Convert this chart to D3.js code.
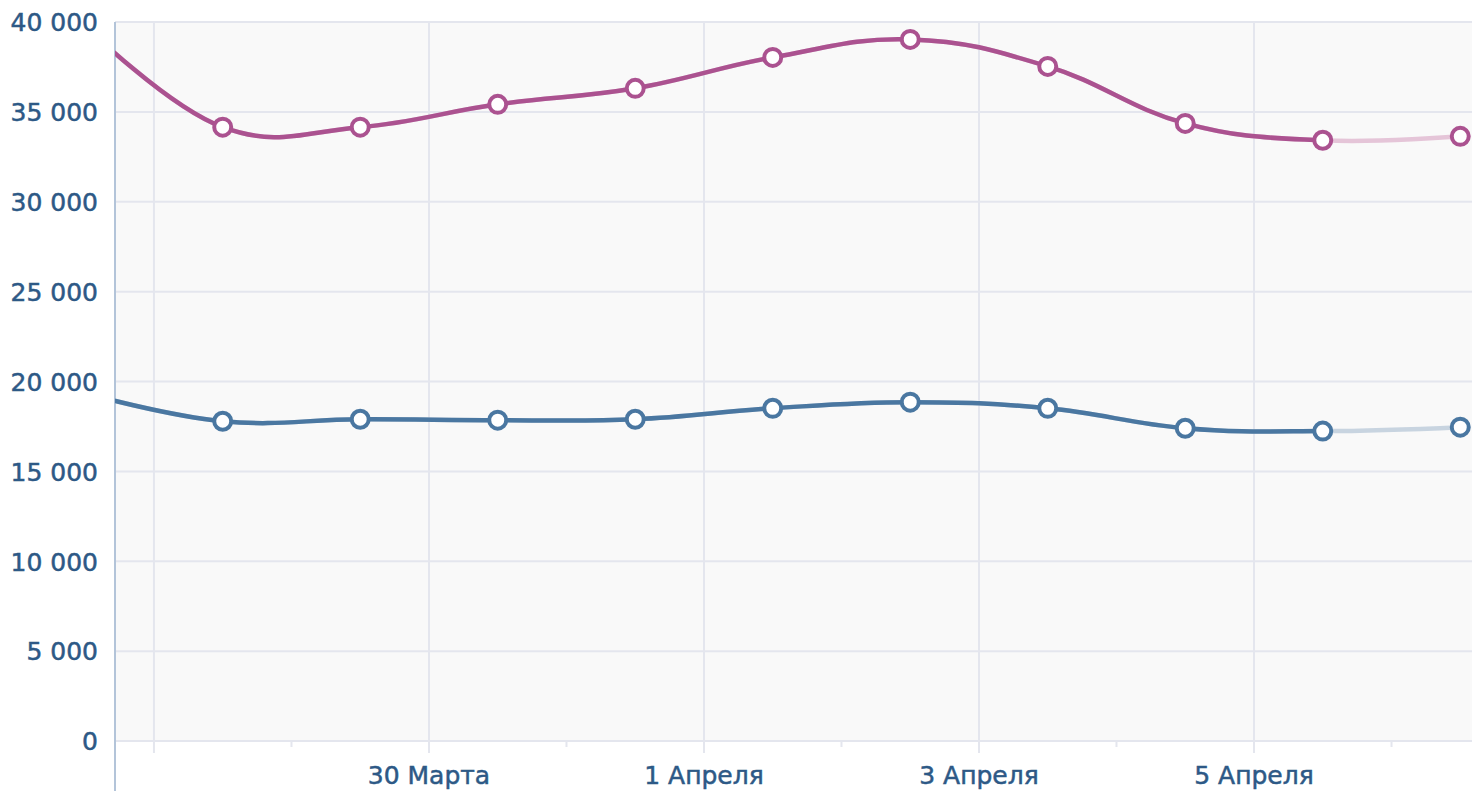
<!DOCTYPE html>
<html>
<head>
<meta charset="utf-8">
<script src="https://cdn.jsdelivr.net/npm/d3@7"></script>
<style>
  html, body { margin: 0; padding: 0; background: #fff; }
  svg { display: block; font-family: "DejaVu Sans", Verdana, sans-serif; }
</style>
</head>
<body>
<script>
// Data: one point per day at noon, 27 March .. 6 April (first point is off the left edge)
const days = ["2015-03-27", "2015-03-28", "2015-03-29", "2015-03-30", "2015-03-31",
              "2015-04-01", "2015-04-02", "2015-04-03", "2015-04-04", "2015-04-05", "2015-04-06"];
const seriesTop = [39800, 34150, 34150, 35420, 36310, 38030, 39030, 37530, 34360, 33420, 33640];
const seriesBottom = [19350, 17790, 17900, 17850, 17900, 18510, 18850, 18510, 17400, 17240, 17460];
// last segment (after 5 April) is drawn lighter
const lastFullDay = "2015-04-05";

const yTicks = [0, 5000, 10000, 15000, 20000, 25000, 30000, 35000, 40000];
const majorDays = ["2015-03-28", "2015-03-30", "2015-04-01", "2015-04-03", "2015-04-05"];
const majorLabels = ["", "30 Марта", "1 Апреля", "3 Апреля", "5 Апреля"];
const minorDays = ["2015-03-29", "2015-03-31", "2015-04-02", "2015-04-04", "2015-04-06"];

const W = 1472, H = 791;
const plotLeft = 115, plotTop = 22, plotBottom = 741;

const parseDay = d3.utcParse("%Y-%m-%d");
const noon = s => d3.utcHour.offset(parseDay(s), 12);

const svg = d3.select("body").append("svg")
    .attr("width", W)
    .attr("height", H);

// x: 28 March 00:00 sits at x=154, 137.5 px per day
const x = d3.scaleUtc()
    .domain([new Date(Date.UTC(2015, 2, 27, 17, 12)), new Date(Date.UTC(2015, 3, 6, 14, 3))])
    .range([plotLeft, W]);

const y = d3.scaleLinear()
    .domain([0, 40000])
    .range([plotBottom, plotTop]);

const fmt = d3.formatLocale({ decimal: ",", thousands: " ", grouping: [3], currency: ["", ""] }).format(",d");

// plot background
svg.append("rect")
    .attr("x", plotLeft)
    .attr("y", plotTop)
    .attr("width", W - plotLeft)
    .attr("height", plotBottom - plotTop)
    .attr("fill", "#f9f9f9");

// horizontal grid
svg.append("g")
    .selectAll("line")
    .data(yTicks)
    .join("line")
    .attr("x1", plotLeft)
    .attr("x2", W)
    .attr("y1", d => y(d))
    .attr("y2", d => y(d))
    .attr("stroke", "#e4e6ee")
    .attr("stroke-width", 2);

// vertical grid + major ticks
svg.append("g")
    .selectAll("line")
    .data(majorDays)
    .join("line")
    .attr("x1", d => x(parseDay(d)))
    .attr("x2", d => x(parseDay(d)))
    .attr("y1", plotTop)
    .attr("y2", plotBottom + 12)
    .attr("stroke", "#e4e6ee")
    .attr("stroke-width", 2);

// minor ticks
svg.append("g")
    .selectAll("line")
    .data(minorDays)
    .join("line")
    .attr("x1", d => x(parseDay(d)))
    .attr("x2", d => x(parseDay(d)))
    .attr("y1", plotBottom)
    .attr("y2", plotBottom + 6)
    .attr("stroke", "#e4e6ee")
    .attr("stroke-width", 2);

// left axis line
svg.append("line")
    .attr("x1", plotLeft)
    .attr("x2", plotLeft)
    .attr("y1", plotTop)
    .attr("y2", H)
    .attr("stroke", "#b3c4d9")
    .attr("stroke-width", 2);

// y labels
svg.append("g")
    .selectAll("text")
    .data(yTicks)
    .join("text")
    .attr("x", 98)
    .attr("y", d => y(d))
    .attr("dy", "0.37em")
    .attr("text-anchor", "end")
    .attr("font-size", 25)
    .attr("fill", "#2d5986")
    .attr("stroke", "#2d5986")
    .attr("stroke-width", 0.5)
    .text(d => fmt(d));

// x labels
svg.append("g")
    .selectAll("text")
    .data(majorDays)
    .join("text")
    .attr("x", d => x(parseDay(d)))
    .attr("y", 784)
    .attr("text-anchor", "middle")
    .attr("font-size", 25)
    .attr("fill", "#2d5986")
    .attr("stroke", "#2d5986")
    .attr("stroke-width", 0.5)
    .text((d, i) => majorLabels[i]);

// lines
const defs = svg.append("defs");
defs.append("clipPath").attr("id", "plot-clip")
    .append("rect")
    .attr("x", plotLeft)
    .attr("y", 0)
    .attr("width", W - plotLeft)
    .attr("height", H);
defs.append("clipPath").attr("id", "full-clip")
    .append("rect")
    .attr("x", plotLeft)
    .attr("y", 0)
    .attr("width", x(noon(lastFullDay)) - plotLeft)
    .attr("height", H);

// spline with slightly longer handles than Catmull-Rom
const line = d3.line()
    .x((d, i) => x(noon(days[i])))
    .y(d => y(d))
    .curve(d3.curveCardinal.tension(-0.2));

const series = [
    { values: seriesBottom, color: "#4a77a1", light: "#c8d4e0" },
    { values: seriesTop, color: "#ab5290", light: "#e5c5d8" }
];

series.forEach(s => {
    const g = svg.append("g").attr("clip-path", "url(#plot-clip)");
    g.append("path")
        .attr("d", line(s.values))
        .attr("fill", "none")
        .attr("stroke", s.light)
        .attr("stroke-width", 4.5);
    g.append("path")
        .attr("d", line(s.values))
        .attr("fill", "none")
        .attr("stroke", s.color)
        .attr("stroke-width", 4.5)
        .attr("clip-path", "url(#full-clip)");
    g.selectAll("circle")
        .data(s.values)
        .join("circle")
        .attr("cx", (d, i) => x(noon(days[i])))
        .attr("cy", d => y(d))
        .attr("r", 8.5)
        .attr("fill", "#fff")
        .attr("stroke", s.color)
        .attr("stroke-width", 4);
});
</script>
</body>
</html>
